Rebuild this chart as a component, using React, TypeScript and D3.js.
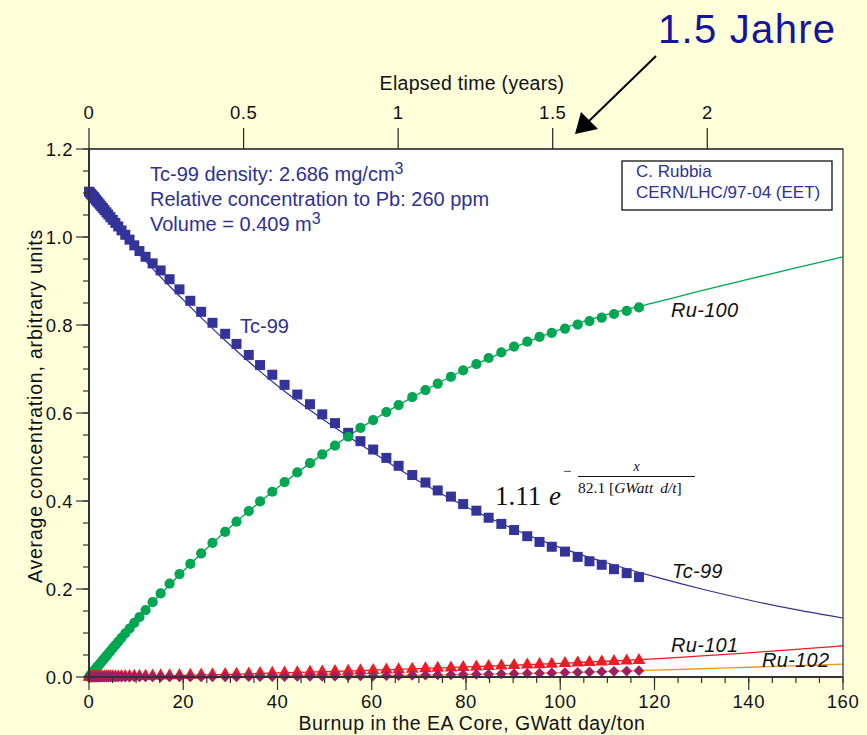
import React from "react";
import * as d3 from "d3";

// Burnup steps (GWatt day/ton) at which the inventory was computed
const burnup = [
  0, 0.2, 0.4, 0.6, 0.8, 1.0, 1.25, 1.5, 1.75, 2.0,
  2.3, 2.6, 2.95, 3.3, 3.7, 4.1, 4.55, 5.05, 5.6, 6.2,
  6.9, 7.7, 8.6, 9.6, 10.7, 12.0, 13.5, 15.2, 17.1, 19.2,
  21.5, 23.8, 26.2, 28.9, 31.3, 33.9, 36.3, 38.9, 41.5, 44.2,
  46.9, 49.5, 52.2, 55.0, 57.6, 60.3, 63.1, 65.7, 68.6, 71.4,
  74.0, 76.8, 79.4, 82.2, 84.8, 87.5, 90.2, 93.0, 95.6, 98.2,
  101.0, 103.7, 106.2, 108.8, 111.4, 114.1, 116.7,
];

const tc99 = [
  1.103, 1.101, 1.098, 1.096, 1.093, 1.091, 1.088, 1.084, 1.081, 1.078,
  1.074, 1.07, 1.066, 1.061, 1.056, 1.051, 1.045, 1.039, 1.032, 1.024,
  1.015, 1.005, 0.994, 0.981, 0.968, 0.955, 0.94, 0.924, 0.904, 0.881,
  0.855, 0.83, 0.805, 0.78, 0.757, 0.732, 0.709, 0.687, 0.664, 0.642,
  0.62, 0.597, 0.577, 0.555, 0.536, 0.517, 0.498, 0.48, 0.459, 0.442,
  0.424, 0.41, 0.393, 0.378, 0.362, 0.348, 0.334, 0.32, 0.307, 0.296,
  0.285, 0.273, 0.263, 0.255, 0.245, 0.236, 0.227,
];

const ru100 = [
  0, 0.0026, 0.0052, 0.0078, 0.0104, 0.013, 0.0163, 0.0195, 0.0228, 0.026,
  0.03, 0.0338, 0.0383, 0.0428, 0.048, 0.0532, 0.059, 0.0655, 0.0725, 0.08,
  0.089, 0.099, 0.11, 0.123, 0.136, 0.152, 0.17, 0.19, 0.212, 0.234,
  0.257, 0.281, 0.305, 0.33, 0.353, 0.377, 0.399, 0.421, 0.443, 0.465,
  0.486, 0.506, 0.526, 0.546, 0.566, 0.584, 0.602, 0.618, 0.636, 0.652,
  0.667, 0.682, 0.697, 0.711, 0.725, 0.738, 0.751, 0.762, 0.773, 0.782,
  0.792, 0.801, 0.809, 0.817, 0.825, 0.832, 0.84,
];

const ru101 = [
  0, 0.00004, 0.00007, 0.0001, 0.00014, 0.00018, 0.00022, 0.00027, 0.00031, 0.00036,
  0.00041, 0.00047, 0.00053, 0.0006, 0.00067, 0.00074, 0.00083, 0.00092, 0.00103, 0.00114,
  0.00128, 0.00143, 0.00161, 0.00181, 0.00203, 0.0023, 0.0026, 0.003, 0.0034, 0.0038,
  0.0044, 0.0049, 0.0055, 0.0062, 0.0068, 0.0074, 0.0081, 0.0088, 0.0095, 0.0103,
  0.0111, 0.0118, 0.0127, 0.0136, 0.0144, 0.0153, 0.0162, 0.0171, 0.0181, 0.0191,
  0.02, 0.0211, 0.0221, 0.0231, 0.0242, 0.0252, 0.0263, 0.0275, 0.0285, 0.0296,
  0.0308, 0.032, 0.0331, 0.0343, 0.0355, 0.0367, 0.038,
];

const ru102 = [
  0, 0, 0, 0, 0, 0, 0, 0, 0, 0,
  0, 0, 0, 0, 0, 0, 0, 0.00001, 0.00001, 0.00001,
  0.00001, 0.00002, 0.00002, 0.00003, 0.00004, 0.00005, 0.00007, 0.00009, 0.00012, 0.00016,
  0.00021, 0.00027, 0.00034, 0.00043, 0.00054, 0.00066, 0.00078, 0.00093, 0.00109, 0.00127,
  0.00148, 0.0017, 0.00193, 0.0022, 0.00247, 0.00276, 0.00309, 0.00342, 0.00381, 0.00422,
  0.00462, 0.00507, 0.0055, 0.006, 0.0065, 0.00703, 0.00756, 0.00815, 0.00873, 0.00933,
  0.01004, 0.01072, 0.0114, 0.01209, 0.01283, 0.0136, 0.0144,
];

// Fitted curves, sampled over the full burnup range
const fitBurnup = [0, 5, 10, 20, 30, 40, 50, 60, 70, 80, 90, 100, 110, 120, 130, 140, 150, 160];
const tc99Fit = [1.115, 1.038, 0.97, 0.857, 0.754, 0.662, 0.583, 0.512, 0.445, 0.387, 0.337, 0.294, 0.259, 0.228, 0.2, 0.175, 0.153, 0.134];
const ru100Fit = [0, 0.065, 0.128, 0.241, 0.341, 0.43, 0.51, 0.582, 0.644, 0.7, 0.748, 0.79, 0.824, 0.851, 0.878, 0.904, 0.93, 0.955];
const ru101Fit = [0, 0.0008, 0.0016, 0.0035, 0.006, 0.0092, 0.012, 0.0155, 0.019, 0.0228, 0.0267, 0.031, 0.0358, 0.0412, 0.048, 0.055, 0.0627, 0.071];
const ru102Fit = [0, 0, 0, 0.0002, 0.0005, 0.001, 0.0017, 0.0027, 0.004, 0.0057, 0.0076, 0.0098, 0.0125, 0.0155, 0.0188, 0.0222, 0.0256, 0.0292];

const burnupTicks = [0, 20, 40, 60, 80, 100, 120, 140, 160];
const concTicks = [0, 0.2, 0.4, 0.6, 0.8, 1.0, 1.2];
const yearTicks = [0, 0.5, 1, 1.5, 2];
const yearLabels = ["0", "0.5", "1", "1.5", "2"];

const SANS = "'Liberation Sans', Arial, Helvetica, sans-serif";
const SERIF = "'Liberation Serif', 'Times New Roman', serif";
const INK = "#2e3192";

export default function App() {
  const x = d3.scaleLinear().domain([0, 160]).range([89, 843]);
  const y = d3.scaleLinear().domain([0, 1.2]).range([677, 149]);
  // one year of operation corresponds to about 65.6 GWatt day/ton
  const years = d3.scaleLinear().domain([0, 160 / 65.6]).range([89, 843]);

  const fitPath = (vals: number[]) =>
    d3
      .line<number>()
      .x((_, i) => x(fitBurnup[i]))
      .y((d) => y(d))
      .curve(d3.curveMonotoneX)(vals) || "";

  const sq = d3.symbol(d3.symbolSquare, 100)() || "";
  const circ = d3.symbol(d3.symbolCircle, 82)() || "";
  const tri = d3.symbol(d3.symbolTriangle, 70)() || "";
  const dia = d3.symbol(d3.symbolSquare, 58)() || "";

  const minorY = d3.range(0, 1.2001, 0.05);
  const minorX = d3.range(0, 160.01, 5);

  return (
    <svg
      width={867}
      height={735}
      style={{ position: "absolute", left: 0, top: 0, display: "block" }}
      fontFamily={SANS}
    >
      <rect x={0} y={0} width={867} height={735} fill="#ffffda" />
      <rect x={89} y={149} width={754} height={528} fill="#ffffff" />

      {/* fitted curves */}
      <path d={fitPath(tc99Fit)} fill="none" stroke="#2e3192" strokeWidth={1.2} />
      <path d={fitPath(ru100Fit)} fill="none" stroke="#00a651" strokeWidth={1.3} />
      <path d={fitPath(ru102Fit)} fill="none" stroke="#f7941d" strokeWidth={1.3} />
      <path d={fitPath(ru101Fit)} fill="none" stroke="#ed1c24" strokeWidth={1.3} />

      {/* computed inventories */}
      <g fill="#333399">
        {burnup.map((b, i) => (
          <path key={"tc" + i} d={sq} transform={`translate(${x(b)},${y(tc99[i])})`} />
        ))}
      </g>
      <g fill="#00a651">
        {burnup.map((b, i) => (
          <path key={"r0" + i} d={circ} transform={`translate(${x(b)},${y(ru100[i])})`} />
        ))}
      </g>
      <g fill="#ed1c24">
        {burnup.map((b, i) => (
          <path key={"r1" + i} d={tri} transform={`translate(${x(b)},${y(ru101[i])})`} />
        ))}
      </g>
      <g fill="#9e1f63">
        {burnup.map((b, i) => (
          <path key={"r2" + i} d={dia} transform={`translate(${x(b)},${y(ru102[i])}) rotate(45)`} />
        ))}
      </g>

      {/* frame */}
      <rect x={89} y={149} width={754} height={528} fill="none" stroke="#555" strokeWidth={1.5} />
      <line x1={89} x2={89} y1={149} y2={677} stroke="#333" strokeWidth={2} />
      <line x1={89} x2={843} y1={677} y2={677} stroke="#333" strokeWidth={2} />
      <line x1={89} x2={843} y1={149} y2={149} stroke="#222" strokeWidth={1.2} />

      {/* left axis */}
      {minorY.map((v, i) => (
        <line key={"my" + i} x1={83} x2={89} y1={y(v)} y2={y(v)} stroke="#333" strokeWidth={1.2} />
      ))}
      {concTicks.map((v) => (
        <g key={"ty" + v}>
          <line x1={76} x2={89} y1={y(v)} y2={y(v)} stroke="#333" strokeWidth={1.2} />
          <text x={73} y={y(v) + 6.5} textAnchor="end" fontSize={18.5} fill="#111" letterSpacing={0.5}>
            {v.toFixed(1)}
          </text>
        </g>
      ))}

      {/* bottom axis */}
      {minorX.map((v, i) => (
        <line key={"mx" + i} x1={x(v)} x2={x(v)} y1={677} y2={683} stroke="#333" strokeWidth={1.2} />
      ))}
      {burnupTicks.map((v) => (
        <g key={"tx" + v}>
          <line x1={x(v)} x2={x(v)} y1={677} y2={690} stroke="#333" strokeWidth={1.2} />
          <text x={x(v)} y={708} textAnchor="middle" fontSize={18.5} fill="#111" letterSpacing={0.5}>
            {v}
          </text>
        </g>
      ))}

      {/* top axis: elapsed time */}
      {yearTicks.map((v, i) => (
        <g key={"yr" + v}>
          <line x1={years(v)} x2={years(v)} y1={128} y2={149} stroke="#222" strokeWidth={1.2} />
          <text x={years(v)} y={119} textAnchor="middle" fontSize={18.5} fill="#111" letterSpacing={0.5}>
            {yearLabels[i]}
          </text>
        </g>
      ))}

      {/* axis titles */}
      <text x={472} y={90} textAnchor="middle" fontSize={19.5} fill="#111" letterSpacing={0.3}>
        Elapsed time (years)
      </text>
      <text x={472} y={730} textAnchor="middle" fontSize={19.5} fill="#111" letterSpacing={0.5}>
        Burnup in the EA Core, GWatt day/ton
      </text>
      <text
        transform="translate(42,406) rotate(-90)"
        textAnchor="middle"
        fontSize={19.5}
        fill="#111"
        letterSpacing={0.8}
      >
        Average concentration, arbitrary units
      </text>

      {/* description */}
      <g fill={INK} fontSize={20}>
        <text x={150} y={181}>
          Tc-99 density: 2.686 mg/cm
          <tspan dy={-7} fontSize={16}>3</tspan>
        </text>
        <text x={150} y={206}>Relative concentration to Pb: 260 ppm</text>
        <text x={150} y={231}>
          Volume = 0.409 m
          <tspan dy={-7} fontSize={16}>3</tspan>
        </text>
        <text x={240} y={333}>Tc-99</text>
      </g>

      {/* reference box */}
      <rect x={622} y={161} width={210} height={49} fill="none" stroke="#222" strokeWidth={1.4} />
      <g fill={INK} fontSize={17}>
        <text x={636} y={177}>C. Rubbia</text>
        <text x={636} y={198}>CERN/LHC/97-04 (EET)</text>
      </g>

      {/* curve labels */}
      <g fontStyle="italic" fontSize={20} fill="#111" letterSpacing={0.3}>
        <text x={671} y={317}>Ru-100</text>
        <text x={672} y={578}>Tc-99</text>
        <text x={671} y={652}>Ru-101</text>
        <text x={762} y={667}>Ru-102</text>
      </g>

      {/* fit formula */}
      <g fontFamily={SERIF} fill="#111">
        <text x={495} y={505} fontSize={27}>1.11</text>
        <text x={549} y={505} fontSize={27} fontStyle="italic">e</text>
        <text x={563} y={476} fontSize={15}>−</text>
        <line x1={578} x2={695} y1={476.5} y2={476.5} stroke="#111" strokeWidth={1} />
        <text x={636.5} y={471} fontSize={14} fontStyle="italic" textAnchor="middle">x</text>
        <text x={578} y={493} fontSize={15.5}>
          82.1 [<tspan fontStyle="italic">GWatt</tspan>
          <tspan fontStyle="italic" dx={7}>d/t</tspan>]
        </text>
      </g>

      {/* annotation */}
      <text x={658} y={43} fontSize={40} fill="#1414a0" textLength={177}>
        1.5 Jahre
      </text>
      <line x1={656} y1={56} x2={588} y2={122} stroke="#000" strokeWidth={2} />
      <path d="M575,134 L581,112 L598,129 Z" fill="#000" />
    </svg>
  );
}
